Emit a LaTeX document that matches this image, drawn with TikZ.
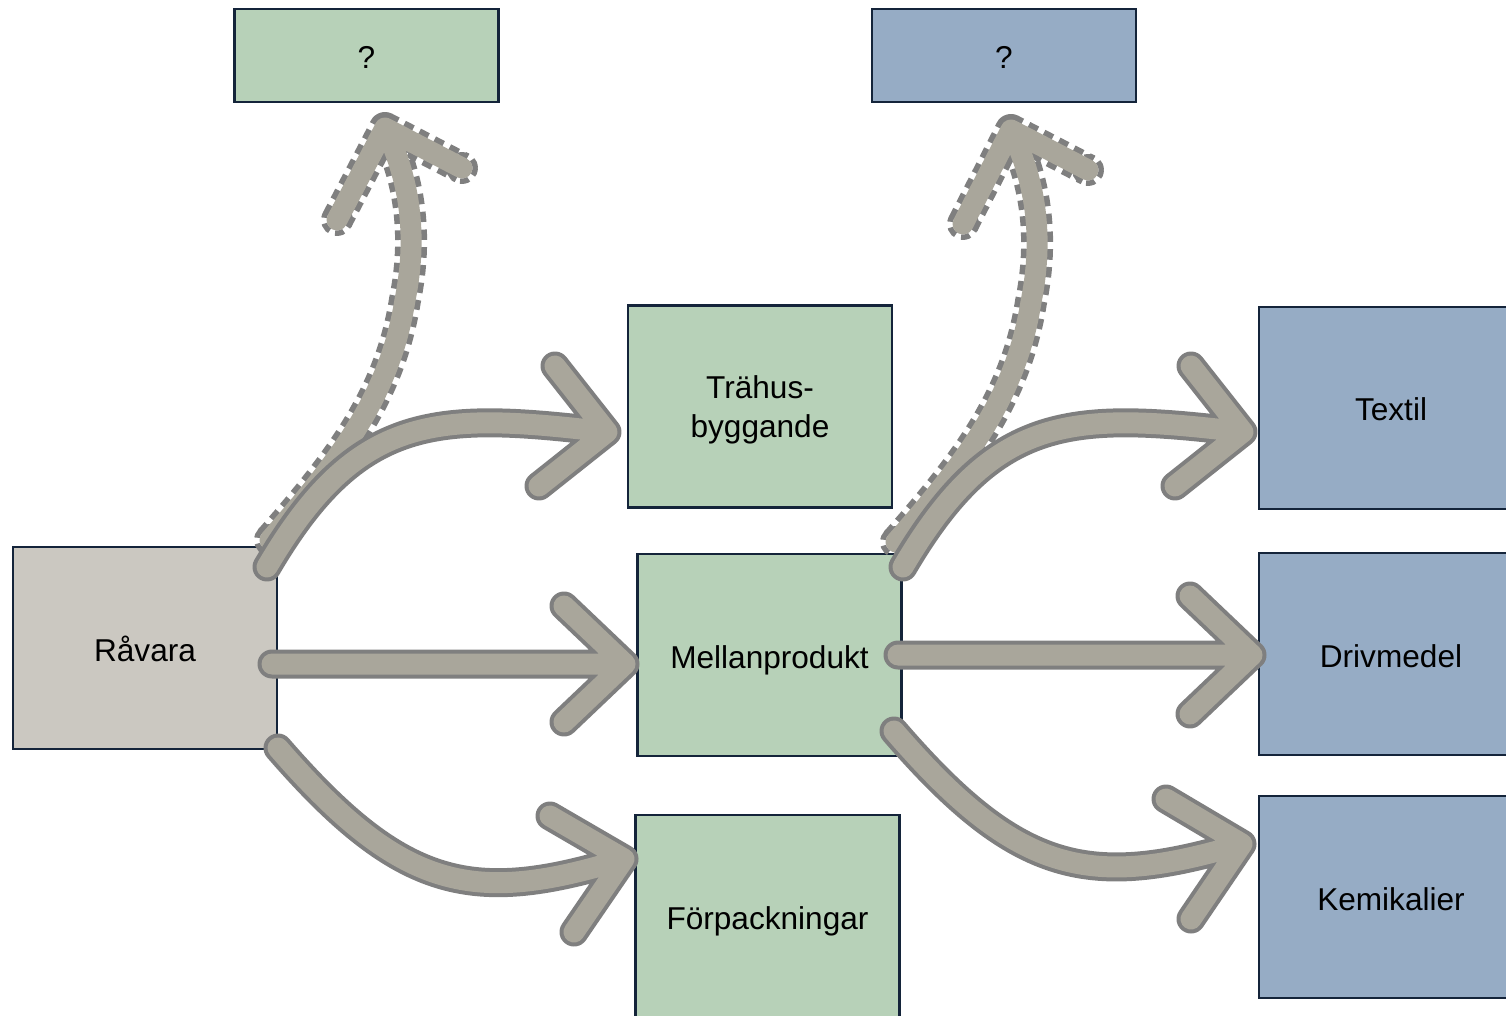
\documentclass[tikz,border=0pt]{standalone}
\usepackage{fontspec}
\setmainfont{Liberation Sans}
\definecolor{grn}{HTML}{B7D1B8}
\definecolor{blu}{HTML}{96ACC5}
\definecolor{gry}{HTML}{CBC8C1}
\definecolor{boxline}{HTML}{14243A}
\definecolor{arrfill}{HTML}{A9A69B}
\definecolor{arrline}{HTML}{7F7F7F}
\tikzset{
  box/.style={draw=boxline, line width=1.25pt, minimum width=132pt, minimum height=101pt,
    inner sep=0pt, outer sep=0pt, align=center, text depth=0pt, font=\fontsize{15.8}{19.5}\selectfont},
  onebox/.style={box, text height=13pt},
  smallbox/.style={onebox, minimum height=46.5pt},
  arrowbody/.style={draw=arrfill, line width=10.5pt, line cap=round, line join=round},
  solidarrow/.style={arrowbody, preaction={draw=arrline, line width=14.5pt, line cap=round, line join=round}},
  dashedge/.style={draw=arrline, line width=16pt, line cap=butt, line join=round, dash pattern=on 5pt off 3.5pt},
  dashcap/.style={draw=arrline, line width=2.75pt, dash pattern=on 4.5pt off 3pt}
}
\begin{document}
\begin{tikzpicture}[x=0.5pt,y=-0.5pt]
\useasboundingbox (0,0) rectangle (1506,1016);
\clip (0,0) rectangle (1506,1016);

% boxes
\node[smallbox, fill=grn] (q1) at (366.5,55.5) {?};
\node[smallbox, fill=blu] (q2) at (1004,55.5) {?};
\node[box, fill=grn] (trahus) at (760,406.5) {Trähus-\\byggande};
\node[onebox, fill=gry] (ravara) at (145,648) {Råvara};
\node[onebox, fill=grn] (mellan) at (769.5,655) {Mellanprodukt};
\node[onebox, fill=grn] (forp) at (767.5,916) {Förpackningar};
\node[onebox, fill=blu] (textil) at (1391,408) {Textil};
\node[onebox, fill=blu] (driv) at (1391,654) {Drivmedel};
\node[onebox, fill=blu] (kemi) at (1391,897) {Kemikalier};

% coordinates for connectors
\coordinate (a4s) at (270,540);
\coordinate (a4t) at (385,128);
\coordinate (a6s) at (896,542);
\coordinate (a6t) at (1011,130);
\coordinate (a1s) at (267,567);
\coordinate (a1t) at (607,432);
\coordinate (a2s) at (272,664);
\coordinate (a2t) at (625,664);
\coordinate (a3s) at (278,748);
\coordinate (a3t) at (624,859);
\coordinate (a5s) at (903,567);
\coordinate (a5t) at (1243,432);
\coordinate (a7s) at (898,655);
\coordinate (a7t) at (1252,655);
\coordinate (a8s) at (894,731);
\coordinate (a8t) at (1242,844);

% dashed arrows (Råvara -> ?, Mellanprodukt -> ?)
\draw[dashedge] (a4s) .. controls (340,460) and (390,395) .. (405,300)
  .. controls (420,225) and (405,170) .. (a4t) (337,220) -- (a4t) -- (462,168);
\draw[dashcap] (a4s) circle[radius=6.6pt] (337,220) circle[radius=6.6pt] (462,168) circle[radius=6.6pt];
\draw[arrowbody] (a4s) .. controls (340,460) and (390,395) .. (405,300)
  .. controls (420,225) and (405,170) .. (a4t) (337,220) -- (a4t) -- (462,168);

\draw[dashedge] (a6s) .. controls (966,462) and (1016,397) .. (1031,302)
  .. controls (1046,227) and (1031,172) .. (a6t) (963,224) -- (a6t) -- (1088,170);
\draw[dashcap] (a6s) circle[radius=6.6pt] (963,224) circle[radius=6.6pt] (1088,170) circle[radius=6.6pt];
\draw[arrowbody] (a6s) .. controls (966,462) and (1016,397) .. (1031,302)
  .. controls (1046,227) and (1031,172) .. (a6t) (963,224) -- (a6t) -- (1088,170);

% solid arrows
\draw[solidarrow] (a1s) .. controls (358,412) and (437,412) .. (a1t) (555,366) -- (a1t) -- (539,486);
\draw[solidarrow] (a2s) -- (a2t) (564,606) -- (a2t) -- (564,722);
\draw[solidarrow] (a3s) .. controls (403,892) and (474,905) .. (a3t) (550,816) -- (a3t) -- (574,932);
\draw[solidarrow] (a5s) .. controls (994,412) and (1073,412) .. (a5t) (1191,366) -- (a5t) -- (1175,486);
\draw[solidarrow] (a7s) -- (a7t) (1190,596) -- (a7t) -- (1190,714);
\draw[solidarrow] (a8s) .. controls (1019,876) and (1091,889) .. (a8t) (1166,799) -- (a8t) -- (1191,919);
\end{tikzpicture}
\end{document}
